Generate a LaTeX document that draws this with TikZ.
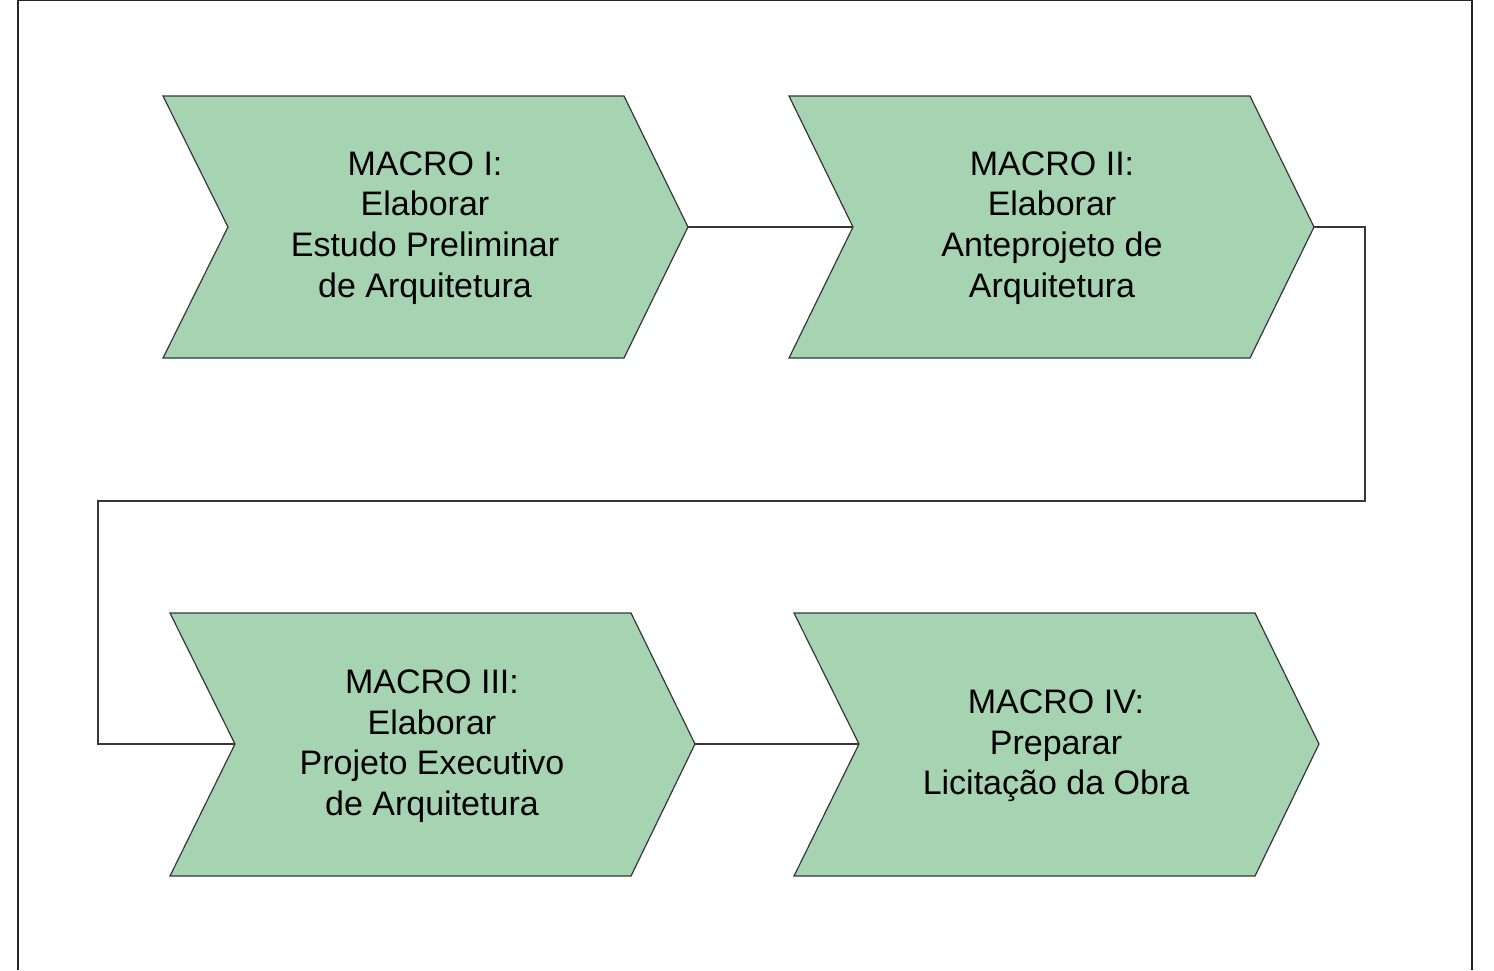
\documentclass[tikz,border=0pt]{standalone}
\usepackage{fontspec}
\setmainfont{Liberation Sans}
\definecolor{chevgreen}{RGB}{166,211,178}
\definecolor{linegray}{RGB}{55,55,55}
\begin{document}
\begin{tikzpicture}[x=1pt,y=-1pt,
  chev/.style={fill=chevgreen, draw=linegray, line width=1.2pt, line join=miter},
  lbl/.style={align=center, font=\fontsize{34}{40.7}\selectfont, text=black, inner sep=0pt},
  conn/.style={draw=linegray, line width=1.2pt},
  frame/.style={draw=black!85, line width=1.6pt}]
\useasboundingbox (0,0) rectangle (1494,970);
% page frame
\draw[frame] (18,970) -- (18,0.5) -- (1472,0.5) -- (1472,970);
% key points
\coordinate (n1) at (228,227);  \coordinate (t1) at (688,227);
\coordinate (n2) at (853,227);  \coordinate (t2) at (1314,227);
\coordinate (n3) at (235,744);  \coordinate (t3) at (695,744);
\coordinate (n4) at (859,744);  \coordinate (t4) at (1319,744);
\coordinate (c1) at (1365,227); \coordinate (c2) at (1365,501);
\coordinate (c3) at (98,501);   \coordinate (c4) at (98,744);
% chevrons
\draw[chev] (163,96) -- (624,96) -- (t1) -- (624,358) -- (163,358) -- (n1) -- cycle;
\draw[chev] (789,96) -- (1250,96) -- (t2) -- (1250,358) -- (789,358) -- (n2) -- cycle;
\draw[chev] (170,613) -- (631,613) -- (t3) -- (631,876) -- (170,876) -- (n3) -- cycle;
\draw[chev] (794,613) -- (1255,613) -- (t4) -- (1255,876) -- (794,876) -- (n4) -- cycle;
% labels
\node[lbl] (m1) at (425,228) {MACRO I:\\Elaborar\\Estudo Preliminar\\de Arquitetura};
\node[lbl] (m2) at (1052,228) {MACRO II:\\Elaborar\\Anteprojeto de\\Arquitetura};
\node[lbl] (m3) at (432,746) {MACRO III:\\Elaborar\\Projeto Executivo\\de Arquitetura};
\node[lbl] (m4) at (1056,746) {MACRO IV:\\Preparar\\Licitação da Obra};
% connectors
\draw[conn] (t1) -- (n2);
\draw[conn] (t2) -- (c1) -- (c2) -- (c3) -- (c4) -- (n3);
\draw[conn] (t3) -- (n4);
\end{tikzpicture}
\end{document}
